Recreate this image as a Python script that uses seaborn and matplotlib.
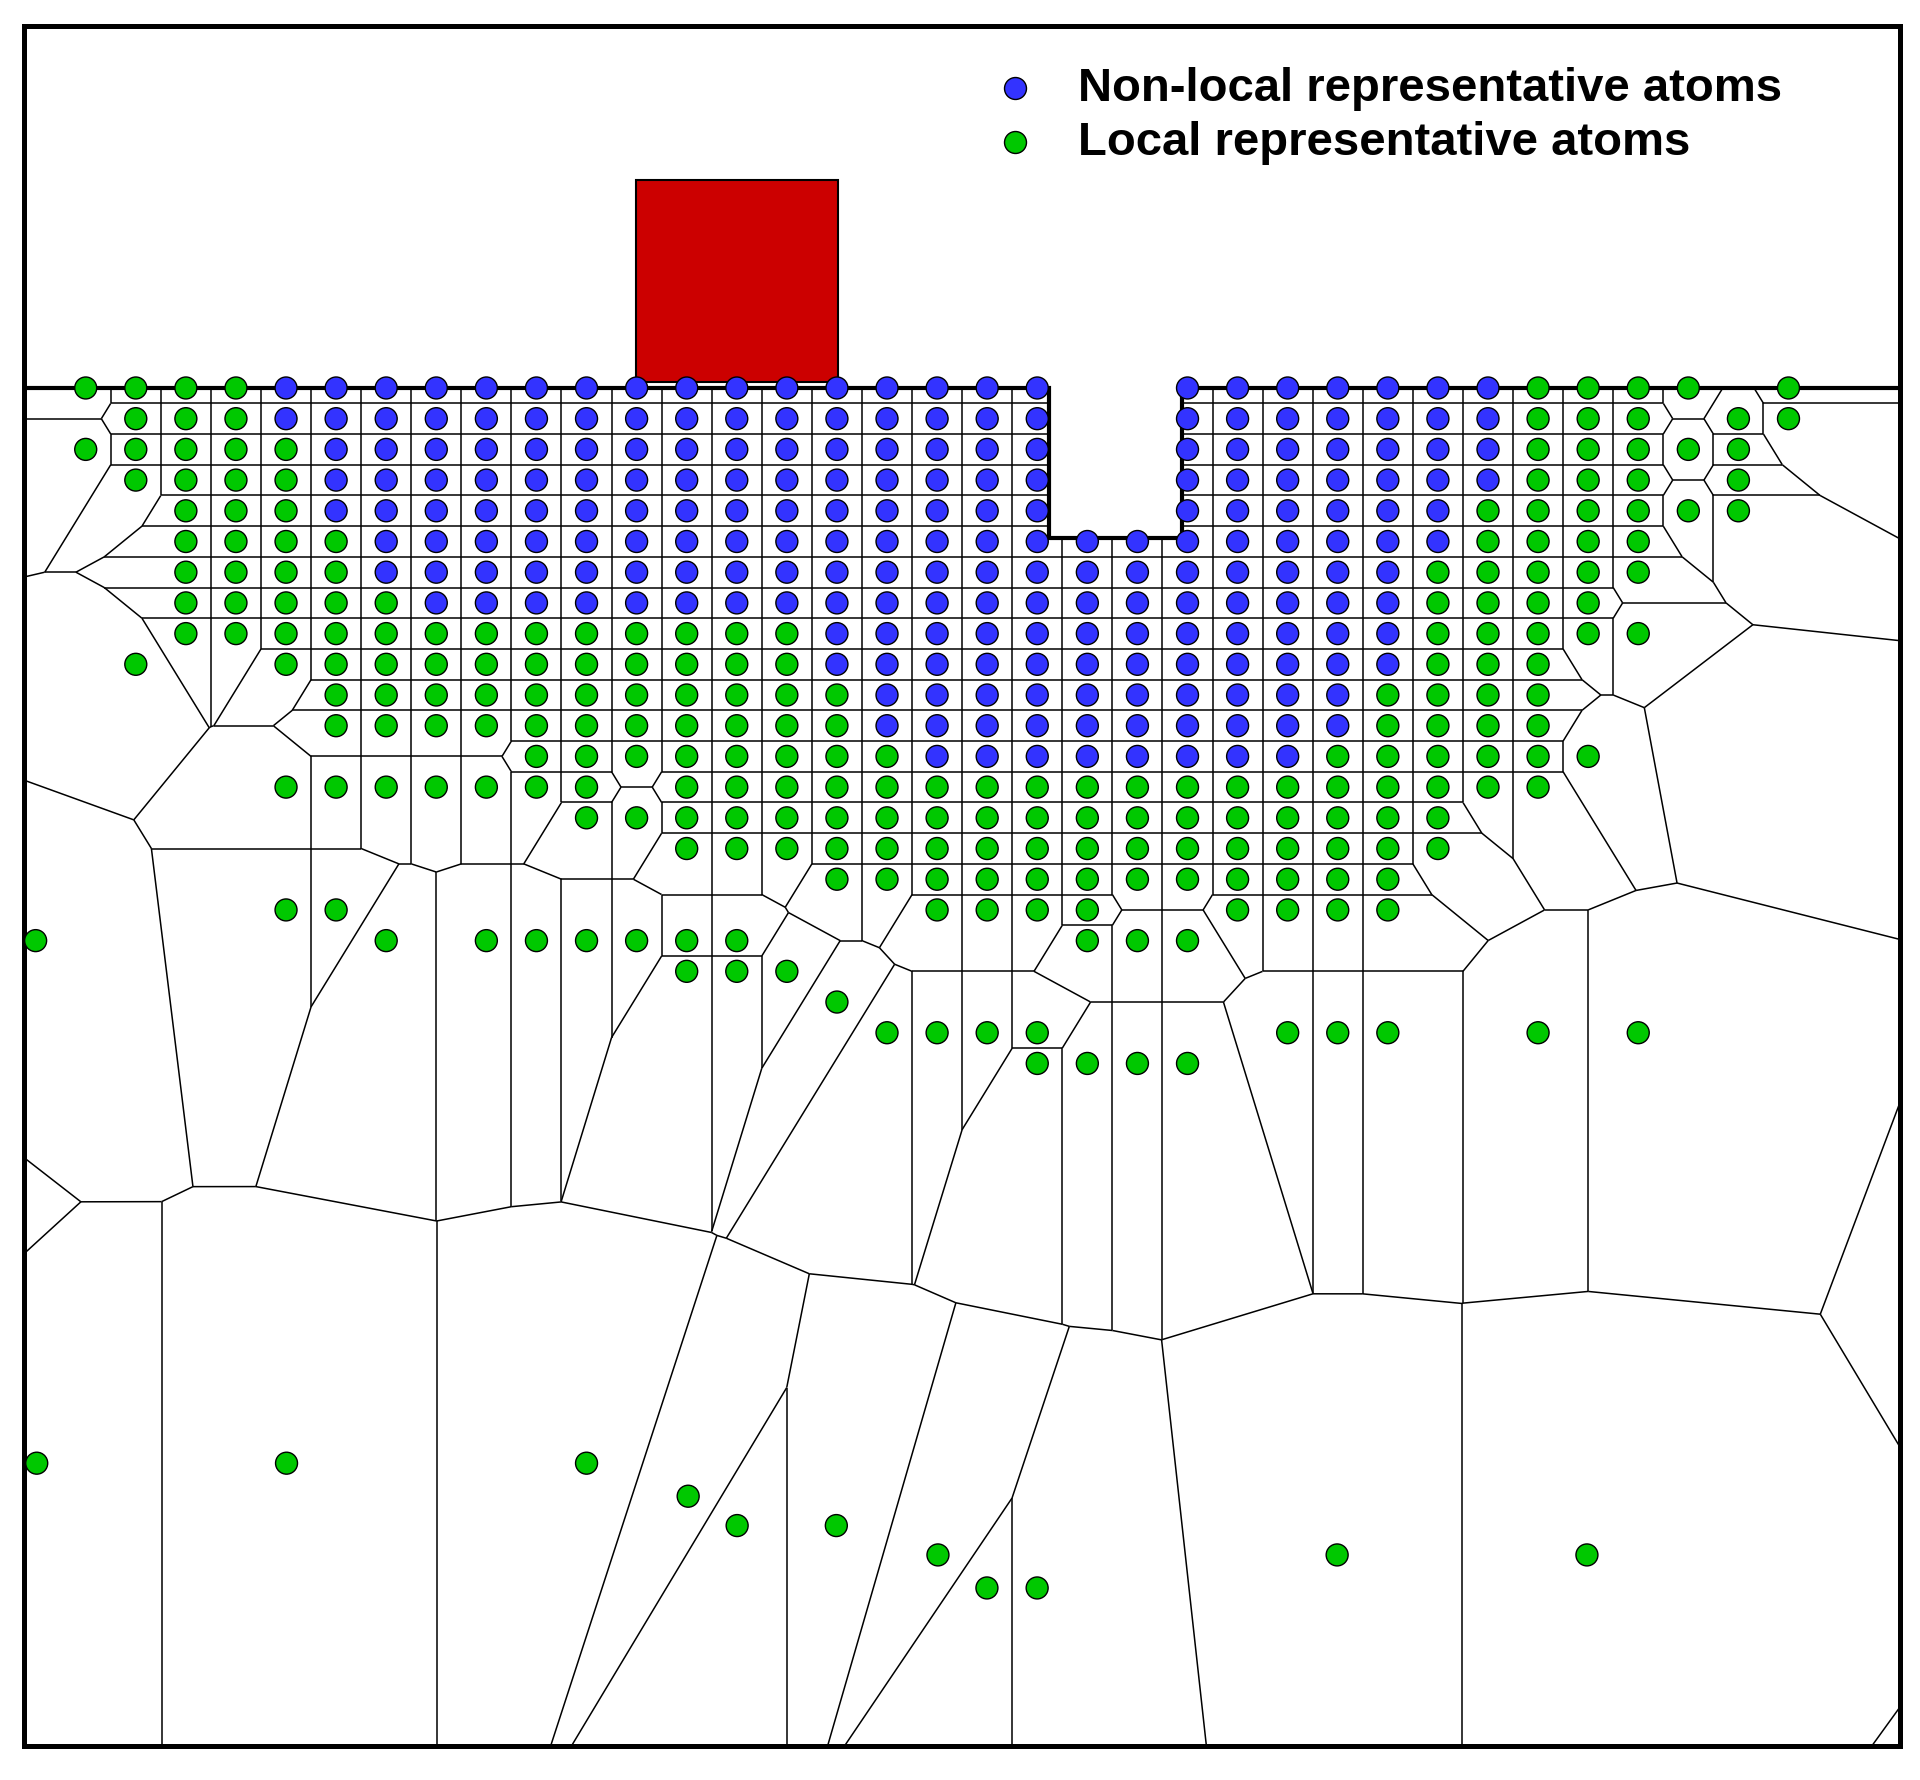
import numpy as np
import pandas as pd
import matplotlib
matplotlib.use("Agg")
import matplotlib.pyplot as plt
import matplotlib.tri as mtri
from matplotlib.collections import LineCollection
from matplotlib.patches import Polygon, Rectangle
import seaborn as sns

# lattice: column index -> x, row index -> y (picture units, y down)
x0, dx = 70.0, 40.9
y0, dy = 318.0, 25.1

# rows of representative atoms: row -> (columns, nonlocal columns)
def span(a, b):
    return list(range(a, b + 1))

rows = {
    0: (span(0, 19) + span(22, 32) + [34], span(4, 19) + span(22, 28)),
    1: (span(1, 19) + span(22, 31) + [33, 34], span(4, 19) + span(22, 28)),
    2: (span(0, 19) + span(22, 33), span(5, 19) + span(22, 28)),
    3: (span(1, 19) + span(22, 31) + [33], span(5, 19) + span(22, 28)),
    4: (span(2, 19) + span(22, 33), span(5, 19) + span(22, 27)),
    5: (span(2, 31), span(6, 27)),
    6: (span(2, 31), span(6, 26)),
    7: (span(2, 30), span(7, 26)),
    8: (span(2, 31), span(15, 26)),
    9: ([1] + span(4, 29), span(15, 26)),
    10: (span(5, 29), span(16, 25)),
    11: (span(5, 29), span(16, 25)),
    12: (span(9, 30), span(17, 24)),
    13: (span(4, 10) + span(12, 29), []),
    14: (span(10, 27), []),
    15: (span(12, 27), []),
    16: (span(15, 26), []),
    17: ([4, 5] + span(17, 20) + span(23, 26), []),
    18: ([-1, 6] + span(8, 13) + span(20, 22), []),
    19: (span(12, 14), []),
    20: ([15], []),
    21: (span(16, 19) + span(24, 26) + [29, 31], []),
    22: (span(19, 22), []),
}

# far-field local atoms (picture units)
far_x = [30, 234, 479, 562, 602, 683, 766, 806, 847, 1092, 1296]
far_y = [1197, 1197, 1197, 1224, 1248, 1248, 1272, 1299, 1299, 1272, 1272]

# hidden mesh nodes outside the frame (only shape the cells)
ghost_x = [-150, -150, -150, 100, 450, 800, 1150, 1500, 1750, 1750, 1750, 1400]
ghost_y = [500, 1000, 1600, 1950, 1950, 1950, 1950, 1950, 1600, 1000, 500, 600]

recs = []
for r, (cols, blues) in rows.items():
    for c in cols:
        kind = "Non-local representative atoms" if c in blues else "Local representative atoms"
        recs.append((x0 + dx * c, y0 + dy * r, kind))
for fx, fy in zip(far_x, far_y):
    recs.append((fx, fy, "Local representative atoms"))
atoms = pd.DataFrame(recs, columns=["x", "y", "kind"])

# mesh support: mirror row just above the surface
top_cols = rows[0][0]
sup_x = [x0 + dx * c for c in top_cols] + [x0 + dx * c for c in (20, 21)]
sup_y = [y0 - dy] * len(top_cols) + [y0 + 4 * dy] * 2

px = np.concatenate([atoms["x"].values, ghost_x, sup_x])
py = np.concatenate([atoms["y"].values, ghost_y, sup_y])

# Voronoi edges from the Delaunay triangulation
tri = mtri.Triangulation(px, py)
T = tri.triangles
ax_, ay_ = px[T[:, 0]], py[T[:, 0]]
bx_, by_ = px[T[:, 1]], py[T[:, 1]]
cx_, cy_ = px[T[:, 2]], py[T[:, 2]]
d = 2 * (ax_ * (by_ - cy_) + bx_ * (cy_ - ay_) + cx_ * (ay_ - by_))
ux = ((ax_**2 + ay_**2) * (by_ - cy_) + (bx_**2 + by_**2) * (cy_ - ay_) + (cx_**2 + cy_**2) * (ay_ - by_)) / d
uy = ((ax_**2 + ay_**2) * (cx_ - bx_) + (bx_**2 + by_**2) * (ax_ - cx_) + (cx_**2 + cy_**2) * (bx_ - ax_)) / d
segs = []
for t, nb in enumerate(tri.neighbors):
    for n in nb:
        if n > t:
            segs.append([(ux[t], uy[t]), (ux[n], uy[n])])

fig = plt.figure(figsize=(19.2, 17.81), dpi=100)
ax = fig.add_axes([20 / 1568, 1 - 1428 / 1456, 1532 / 1568, 1406 / 1456])
sns.set_style("white")
plt.rcParams["font.family"] = ["Liberation Sans", "DejaVu Sans"]
ax.set_xlim(20, 1552)
ax.set_ylim(1428, 22)

material = [(20, 318), (857, 318), (857, 441), (965, 441), (965, 318),
            (1552, 318), (1552, 1428), (20, 1428)]
clip = Polygon(material, closed=True, transform=ax.transData, fill=False, edgecolor="none")
ax.add_patch(clip)
lc = LineCollection(segs, colors="black", linewidths=1.1, zorder=1)
lc.set_clip_path(clip)
ax.add_collection(lc)

sx, sy = zip(*material[:6])
ax.plot(sx, sy, color="black", lw=3, zorder=2, solid_joinstyle="miter")

ax.add_patch(Rectangle((519, 148), 165, 165, facecolor="#cc0000", edgecolor="black", lw=1.5, zorder=3))

palette = {"Non-local representative atoms": "#3333ff", "Local representative atoms": "#00c800"}
sns.scatterplot(data=atoms, x="x", y="y", hue="kind", palette=palette, s=250,
                edgecolor="black", linewidth=1.0, legend=False, ax=ax, zorder=4)

for ly, label in [(73, "Non-local representative atoms"), (117, "Local representative atoms")]:
    ax.scatter([829], [ly], s=250, color=palette[label], edgecolor="black", linewidth=1.0, zorder=4)
    ax.text(880, ly, label, fontsize=34, fontweight="bold", va="center", ha="left", color="black")

ax.set_xticks([])
ax.set_yticks([])
ax.set_xlabel("")
ax.set_ylabel("")
for s in ax.spines.values():
    s.set_visible(True)
    s.set_linewidth(3.6)
    s.set_color("black")

fig.savefig("out.png", dpi=100, facecolor="white")
